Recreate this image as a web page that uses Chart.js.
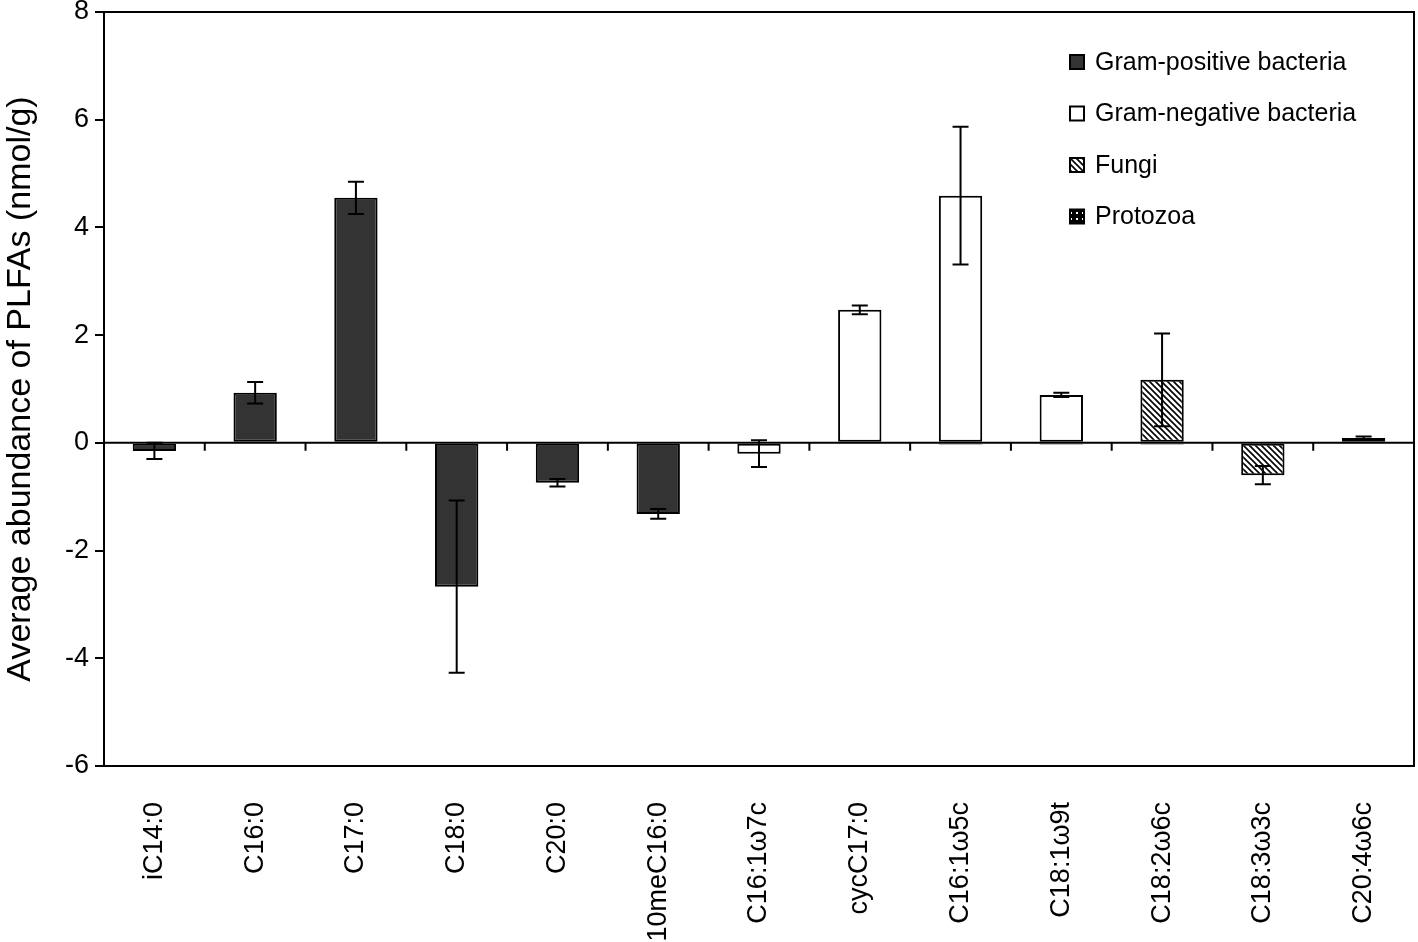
<!DOCTYPE html>
<html>
<head>
<meta charset="utf-8">
<script src="https://cdn.jsdelivr.net/npm/chart.js@4.4.0/dist/chart.umd.min.js"></script>
<style>
  body { margin: 0; background: #fff; }
  #wrap { width: 1418px; height: 942px; }
</style>
</head>
<body>
<div id="wrap"><canvas id="plfaChart"></canvas></div>
<script>
// PLFA markers on the x axis
const categories = ['iC14:0', 'C16:0', 'C17:0', 'C18:0', 'C20:0', '10meC16:0', 'C16:1ω7c',
                    'cycC17:0', 'C16:1ω5c', 'C18:1ω9t', 'C18:2ω6c', 'C18:3ω3c', 'C20:4ω6c'];

// mean values (nmol/g) and error bars per group
const gramPositive    = [-0.15, 0.93, 4.55, -2.67, -0.74, -1.32, null, null, null, null, null, null, null];
const gramPositiveErr = [0.15, 0.20, 0.30, 1.60, 0.07, 0.09, null, null, null, null, null, null, null];
const gramNegative    = [null, null, null, null, null, null, -0.20, 2.47, 4.59, 0.89, null, null, null];
const gramNegativeErr = [null, null, null, null, null, null, 0.25, 0.08, 1.28, 0.04, null, null, null];
const fungi           = [null, null, null, null, null, null, null, null, null, null, 1.17, -0.60, null];
const fungiErr        = [null, null, null, null, null, null, null, null, null, null, 0.86, 0.17, null];
const protozoa        = [null, null, null, null, null, null, null, null, -0.03, -0.03, -0.03, null, 0.09];
const protozoaErr     = [null, null, null, null, null, null, null, null, null, null, null, null, 0.03];

const yTicks = [-6, -4, -2, 0, 2, 4, 6, 8];

const FONT = "'Liberation Sans', Arial, sans-serif";

// fill patterns for fungi (hatch) and protozoa (dots)
function hatchPattern() {
  const c = document.createElement('canvas');
  c.width = c.height = 6;
  const g = c.getContext('2d');
  g.fillStyle = '#fff';
  g.fillRect(0, 0, 6, 6);
  g.strokeStyle = '#000';
  g.lineWidth = 1.6;
  g.beginPath();
  g.moveTo(-1, -1); g.lineTo(7, 7);
  g.moveTo(-1, 5); g.lineTo(1, 7);
  g.moveTo(5, -1); g.lineTo(7, 1);
  g.stroke();
  return g.createPattern(c, 'repeat');
}

function dotPattern() {
  const c = document.createElement('canvas');
  c.width = c.height = 6;
  const g = c.getContext('2d');
  g.fillStyle = '#000';
  g.fillRect(0, 0, 6, 6);
  g.fillStyle = '#fff';
  g.fillRect(2, 2, 2, 2);
  return g.createPattern(c, 'repeat');
}

// box around the plot, zero line with small ticks between categories
const framePlugin = {
  id: 'frame',
  afterDatasetsDraw(chart) {
    const { ctx, chartArea: a, scales: { x, y } } = chart;
    const y0 = y.getPixelForValue(0);
    ctx.save();
    ctx.strokeStyle = '#000';
    ctx.lineWidth = 2;
    ctx.beginPath();
    ctx.moveTo(a.left, y0);
    ctx.lineTo(a.right, y0);
    for (let i = 0; i < categories.length - 1; i++) {
      const xb = (x.getPixelForValue(i) + x.getPixelForValue(i + 1)) / 2;
      ctx.moveTo(xb, y0);
      ctx.lineTo(xb, y0 + 8);
    }
    ctx.stroke();
    ctx.strokeRect(a.left, a.top, a.right - a.left, a.bottom - a.top);
    ctx.restore();
  }
};

// error bars drawn from the err arrays
const errorBarPlugin = {
  id: 'errorBars',
  afterDatasetsDraw(chart) {
    const { ctx, scales: { y } } = chart;
    const unit = Math.abs(y.getPixelForValue(1) - y.getPixelForValue(0));
    ctx.save();
    ctx.strokeStyle = '#000';
    ctx.lineWidth = 2;
    chart.data.datasets.forEach((ds, di) => {
      const meta = chart.getDatasetMeta(di);
      ds.errors.forEach((err, i) => {
        if (err == null || ds.data[i] == null) return;
        const bar = meta.data[i];
        const top = bar.y - err * unit;
        const bot = bar.y + err * unit;
        const cap = 8;
        ctx.beginPath();
        ctx.moveTo(bar.x, top); ctx.lineTo(bar.x, bot);
        ctx.moveTo(bar.x - cap, top); ctx.lineTo(bar.x + cap, top);
        ctx.moveTo(bar.x - cap, bot); ctx.lineTo(bar.x + cap, bot);
        ctx.stroke();
      });
    });
    ctx.restore();
  }
};

// legend in the upper right of the plot
const legendPlugin = {
  id: 'cornerLegend',
  afterDraw(chart) {
    const { ctx, chartArea: a } = chart;
    const bx = a.right - 344;
    let cy = a.top + 50;
    ctx.save();
    ctx.font = '25px ' + FONT;
    ctx.textBaseline = 'middle';
    chart.data.datasets.forEach(ds => {
      ctx.fillStyle = ds.backgroundColor;
      ctx.fillRect(bx, cy - 7, 14, 14);
      ctx.strokeStyle = '#000';
      ctx.lineWidth = 2;
      ctx.strokeRect(bx, cy - 7, 14, 14);
      ctx.fillStyle = '#000';
      ctx.fillText(ds.label, bx + 25, cy + 1);
      cy += 51.5;
    });
    ctx.restore();
  }
};

function makeSet(label, data, errors, fill) {
  return {
    label: label,
    data: data,
    errors: errors,
    backgroundColor: fill,
    borderColor: '#000',
    borderWidth: 2,
    borderSkipped: false,
    categoryPercentage: 1,
    barPercentage: 0.43
  };
}

const canvas = document.getElementById('plfaChart');
new Chart(canvas, {
  type: 'bar',
  data: {
    labels: categories,
    datasets: [
      makeSet('Gram-positive bacteria', gramPositive, gramPositiveErr, '#333333'),
      makeSet('Gram-negative bacteria', gramNegative, gramNegativeErr, '#ffffff'),
      makeSet('Fungi', fungi, fungiErr, hatchPattern()),
      makeSet('Protozoa', protozoa, protozoaErr, dotPattern())
    ]
  },
  options: {
    responsive: true,
    maintainAspectRatio: false,
    animation: false,
    layout: { padding: { top: 12, right: 4, left: 0, bottom: 0 } },
    plugins: {
      legend: { display: false },
      tooltip: { enabled: false }
    },
    scales: {
      x: {
        stacked: true,
        grid: { display: false },
        border: { display: true, color: '#000', width: 2 },
        ticks: {
          color: '#000',
          font: { family: FONT, size: 27 },
          minRotation: 90,
          maxRotation: 90,
          autoSkip: false,
          padding: 28
        },
        afterFit(scale) {
          scale.height = 176;
          scale.paddingLeft = 0;
          scale.paddingRight = 0;
        }
      },
      y: {
        stacked: true,
        min: yTicks[0],
        max: yTicks[yTicks.length - 1],
        afterBuildTicks(scale) { scale.ticks = yTicks.map(v => ({ value: v })); },
        grid: { drawOnChartArea: false, drawTicks: true, tickLength: 9, color: '#000', lineWidth: 2 },
        border: { display: true, color: '#000', width: 2 },
        ticks: {
          color: '#000',
          font: { family: FONT, size: 27 },
          padding: 6
        },
        title: {
          display: true,
          text: 'Average abundance of PLFAs (nmol/g)',
          color: '#000',
          font: { family: FONT, size: 34 },
          padding: { top: 0, bottom: 0 }
        },
        afterFit(scale) {
          scale.width = 104;
          scale.paddingTop = 0;
          scale.paddingBottom = 0;
        }
      }
    }
  },
  plugins: [framePlugin, errorBarPlugin, legendPlugin]
});
</script>
</body>
</html>
